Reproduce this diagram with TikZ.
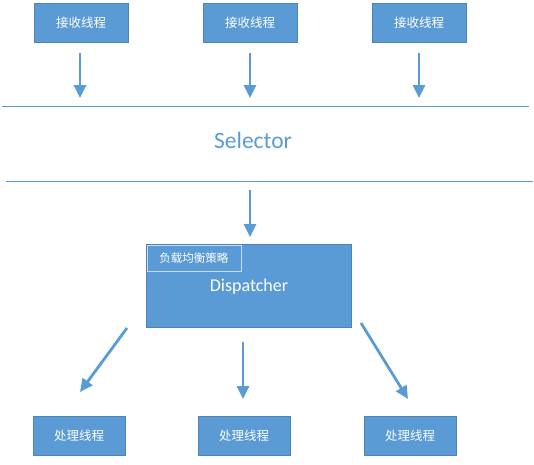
\documentclass[tikz,border=0pt]{standalone}
\usepackage{fontspec}
\setmainfont{Carlito}
\newfontfamily\cjk{Noto Sans CJK SC}
\usetikzlibrary{arrows.meta}
\definecolor{obl}{HTML}{5B9BD5}
\begin{document}
\begin{tikzpicture}[x=1pt,y=-1pt,
  blk/.style={fill=obl,draw=obl!85!black,line width=0.3pt,inner sep=0pt,text=white,font=\cjk\fontsize{12.5}{14}\selectfont},
  arr/.style={draw=obl,line width=2.8pt,-{Triangle[width=12pt,length=13pt]}},
  sep/.style={draw=obl,line width=0.9pt}]
\useasboundingbox (0,0) rectangle (534,464);
% top boxes
\node[blk,minimum width=94pt,minimum height=39pt] (r1) at (81,22.5) {接收线程};
\node[blk,minimum width=94pt,minimum height=39pt] (r2) at (250,22.5) {接收线程};
\node[blk,minimum width=94pt,minimum height=39pt] (r3) at (419,22.5) {接收线程};
\coordinate (a1s) at (80,53); \coordinate (a1e) at (80,98);
\coordinate (a2s) at (250,53); \coordinate (a2e) at (250,98);
\coordinate (a3s) at (419,53); \coordinate (a3e) at (419,98);
\draw[arr] (a1s) -- (a1e);
\draw[arr] (a2s) -- (a2e);
\draw[arr] (a3s) -- (a3e);
% selector
\coordinate (l1a) at (2,106); \coordinate (l1b) at (529,106);
\coordinate (l2a) at (6,181); \coordinate (l2b) at (533,181);
\draw[sep] (l1a) -- (l1b);
\draw[sep] (l2a) -- (l2b);
\node[text=obl,font=\fontsize{23.5}{26}\selectfont] (sel) at (253,140) {Selector};
\coordinate (s1) at (250,190); \coordinate (s2) at (250,237);
\draw[arr] (s1) -- (s2);
% dispatcher
\node[fill=obl,draw=obl!85!black,line width=0.3pt,minimum width=205pt,minimum height=83pt,inner sep=0pt,anchor=north west] (disp) at (146,244) {};
\node[draw=white!65!obl,line width=0.6pt,minimum width=94pt,minimum height=26pt,inner sep=0pt,anchor=north west,text=white,font=\cjk\fontsize{11.5}{13}\selectfont] (lb) at (146.5,244.5) {负载均衡策略};
\node[text=white,font=\fontsize{18}{20}\selectfont] (dt) at (249,287) {Dispatcher};
% bottom arrows
\coordinate (b1s) at (127,328); \coordinate (b1e) at (80,392);
\coordinate (b2s) at (243,342); \coordinate (b2e) at (243,399);
\coordinate (b3s) at (361,323); \coordinate (b3e) at (408,399);
\draw[arr] (b1s) -- (b1e);
\draw[arr] (b2s) -- (b2e);
\draw[arr] (b3s) -- (b3e);
% bottom boxes
\node[blk,minimum width=92pt,minimum height=39pt] (p1) at (79,435.5) {处理线程};
\node[blk,minimum width=92pt,minimum height=39pt] (p2) at (244,435.5) {处理线程};
\node[blk,minimum width=92pt,minimum height=39pt] (p3) at (410,435.5) {处理线程};
\end{tikzpicture}
\end{document}
